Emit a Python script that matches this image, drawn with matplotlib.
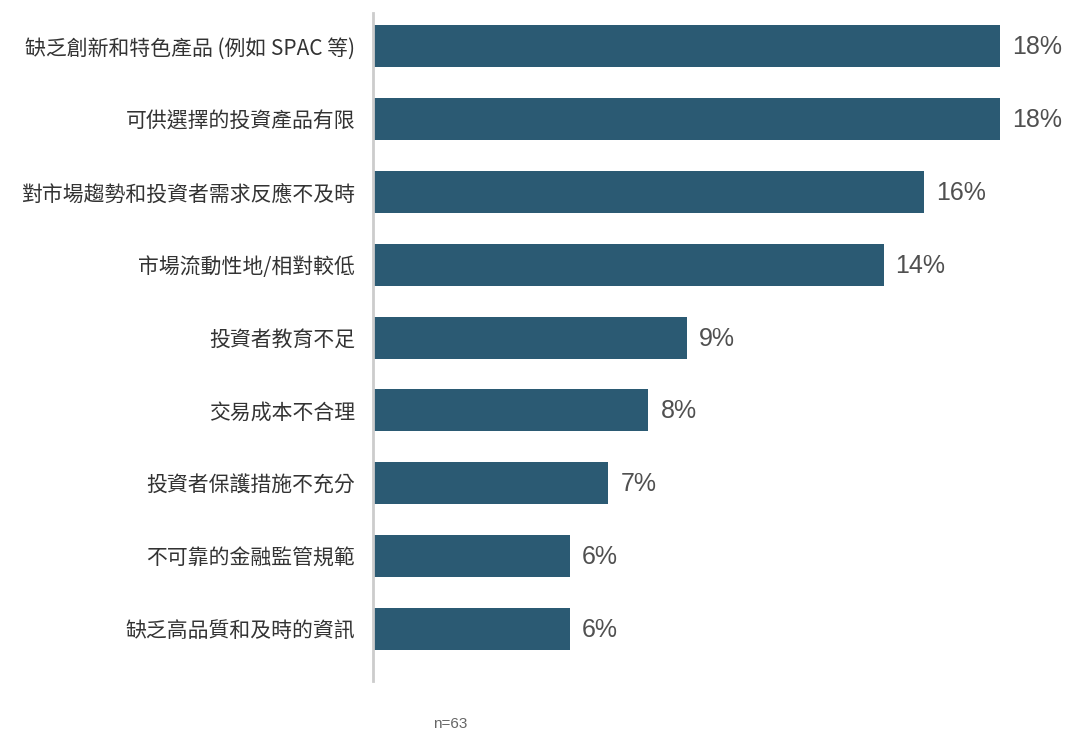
import matplotlib
matplotlib.use("Agg")
import matplotlib.pyplot as plt

categories = [
    "缺乏創新和特色產品 (例如 SPAC 等)",
    "可供選擇的投資產品有限",
    "對市場趨勢和投資者需求反應不及時",
    "市場流動性地/相對較低",
    "投資者教育不足",
    "交易成本不合理",
    "投資者保護措施不充分",
    "不可靠的金融監管規範",
    "缺乏高品質和及時的資訊",
]
values = [18.0, 18.0, 15.8, 14.65, 9.0, 7.9, 6.75, 5.65, 5.65]
value_labels = ["18%", "18%", "16%", "14%", "9%", "8%", "7%", "6%", "6%"]
note = "n=63"

W, H = 1067, 731
fig = plt.figure(figsize=(W / 100, H / 100), dpi=100)
left_px, right_px = 373.3, 1000.3
top_px, bot_px = 13, 680.7
ax = fig.add_axes([left_px / W, 1 - bot_px / H, (right_px - left_px) / W, (bot_px - top_px) / H])

y = list(range(len(categories)))
ax.barh(y, values, height=0.576, color="#2B5A73", edgecolor="none")
ax.set_xlim(0, 18.0)
ax.set_ylim(8.71, -0.455)

cjk = ["Noto Sans CJK TC", "DejaVu Sans"]
ax.set_yticks(y)
ax.set_yticklabels(categories, fontsize=15, color="#333333", family=cjk)
ax.tick_params(axis="y", length=0, pad=13)
ax.set_xticks([])

for yi, v, lab in zip(y, values, value_labels):
    ax.annotate(lab, xy=(v, yi), xytext=(12, -1), textcoords="offset pixels",
                ha="left", va="center", fontsize=18, color="#505050",
                family=["Liberation Sans", "DejaVu Sans"], annotation_clip=False)

for s in ["top", "right", "bottom"]:
    ax.spines[s].set_visible(False)
ax.spines["left"].set_color("#CCCCCC")
ax.spines["left"].set_linewidth(2)

fig.text(433 / W, 1 - 724 / H, note, fontsize=11, color="#666666",
         family=["Liberation Sans", "DejaVu Sans"], ha="left", va="center")

fig.savefig("out.png", dpi=100)
